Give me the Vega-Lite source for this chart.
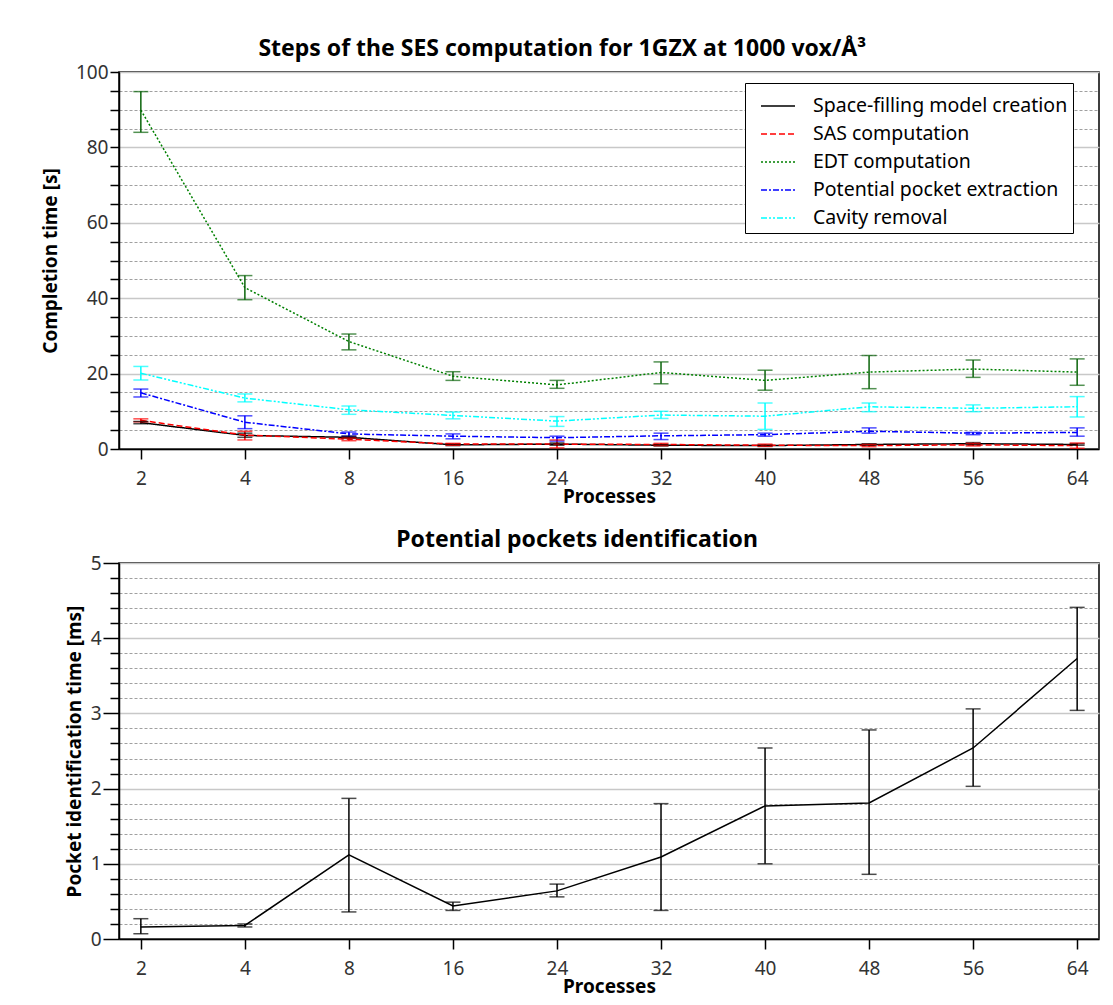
{
  "$schema": "https://vega.github.io/schema/vega-lite/v6.json",
  "padding": {"left": 40, "top": 37, "right": 12, "bottom": 4},
  "background": "white",
  "spacing": 21,
  "config": {
    "font": "Noto Sans",
    "view": {"stroke": "black", "strokeWidth": 1.5},
    "axis": {
      "labelFont": "Noto Sans", "labelFontSize": 19, "labelColor": "#333333",
      "titleFont": "Noto Sans", "titleFontSize": 19, "titleFontWeight": "bold", "titleColor": "black",
      "domainColor": "black", "domainWidth": 1.5, "tickColor": "black", "tickWidth": 1.5
    },
    "title": {"font": "Noto Sans", "fontSize": 23, "fontWeight": "bold", "color": "black", "anchor": "middle", "frame": "bounds", "offset": 2}
  },
  "datasets": {
    "steps": [
      {"step": "Space-filling model creation", "processes": 2, "time": 7.0, "lo": 6.7, "hi": 7.3},
      {"step": "Space-filling model creation", "processes": 4, "time": 3.6, "lo": 3.1, "hi": 4.2},
      {"step": "Space-filling model creation", "processes": 8, "time": 3.1, "lo": 2.8, "hi": 3.4},
      {"step": "Space-filling model creation", "processes": 16, "time": 1.1, "lo": 0.9, "hi": 1.3},
      {"step": "Space-filling model creation", "processes": 24, "time": 1.3, "lo": 1.0, "hi": 1.6},
      {"step": "Space-filling model creation", "processes": 32, "time": 1.0, "lo": 0.8, "hi": 1.2},
      {"step": "Space-filling model creation", "processes": 40, "time": 0.9, "lo": 0.7, "hi": 1.1},
      {"step": "Space-filling model creation", "processes": 48, "time": 1.2, "lo": 1.0, "hi": 1.4},
      {"step": "Space-filling model creation", "processes": 56, "time": 1.4, "lo": 1.1, "hi": 1.7},
      {"step": "Space-filling model creation", "processes": 64, "time": 1.2, "lo": 1.0, "hi": 1.4},
      {"step": "SAS computation", "processes": 2, "time": 7.6, "lo": 7.2, "hi": 8.0},
      {"step": "SAS computation", "processes": 4, "time": 3.7, "lo": 2.4, "hi": 4.7},
      {"step": "SAS computation", "processes": 8, "time": 2.6, "lo": 2.2, "hi": 2.9},
      {"step": "SAS computation", "processes": 16, "time": 1.3, "lo": 1.0, "hi": 1.5},
      {"step": "SAS computation", "processes": 24, "time": 1.3, "lo": 0.3, "hi": 2.4},
      {"step": "SAS computation", "processes": 32, "time": 1.2, "lo": 0.9, "hi": 1.5},
      {"step": "SAS computation", "processes": 40, "time": 1.0, "lo": 0.7, "hi": 1.3},
      {"step": "SAS computation", "processes": 48, "time": 0.9, "lo": 0.6, "hi": 1.2},
      {"step": "SAS computation", "processes": 56, "time": 1.1, "lo": 0.8, "hi": 1.5},
      {"step": "SAS computation", "processes": 64, "time": 0.9, "lo": 0.2, "hi": 1.6},
      {"step": "EDT computation", "processes": 2, "time": 89.9, "lo": 84.0, "hi": 94.8},
      {"step": "EDT computation", "processes": 4, "time": 42.8, "lo": 39.6, "hi": 46.0},
      {"step": "EDT computation", "processes": 8, "time": 28.5, "lo": 26.3, "hi": 30.5},
      {"step": "EDT computation", "processes": 16, "time": 19.3, "lo": 18.2, "hi": 20.5},
      {"step": "EDT computation", "processes": 24, "time": 17.0, "lo": 16.1, "hi": 18.2},
      {"step": "EDT computation", "processes": 32, "time": 20.3, "lo": 17.3, "hi": 23.1},
      {"step": "EDT computation", "processes": 40, "time": 18.2, "lo": 15.6, "hi": 20.9},
      {"step": "EDT computation", "processes": 48, "time": 20.4, "lo": 16.0, "hi": 24.8},
      {"step": "EDT computation", "processes": 56, "time": 21.2, "lo": 19.0, "hi": 23.6},
      {"step": "EDT computation", "processes": 64, "time": 20.4, "lo": 16.9, "hi": 23.9},
      {"step": "Potential pocket extraction", "processes": 2, "time": 14.9, "lo": 13.8, "hi": 15.9},
      {"step": "Potential pocket extraction", "processes": 4, "time": 7.1, "lo": 5.4, "hi": 8.8},
      {"step": "Potential pocket extraction", "processes": 8, "time": 4.0, "lo": 3.4, "hi": 4.5},
      {"step": "Potential pocket extraction", "processes": 16, "time": 3.4, "lo": 2.7, "hi": 4.0},
      {"step": "Potential pocket extraction", "processes": 24, "time": 3.0, "lo": 2.1, "hi": 3.4},
      {"step": "Potential pocket extraction", "processes": 32, "time": 3.5, "lo": 2.5, "hi": 4.2},
      {"step": "Potential pocket extraction", "processes": 40, "time": 3.8, "lo": 3.4, "hi": 4.2},
      {"step": "Potential pocket extraction", "processes": 48, "time": 4.7, "lo": 4.2, "hi": 5.6},
      {"step": "Potential pocket extraction", "processes": 56, "time": 4.2, "lo": 3.8, "hi": 4.4},
      {"step": "Potential pocket extraction", "processes": 64, "time": 4.4, "lo": 3.4, "hi": 5.6},
      {"step": "Cavity removal", "processes": 2, "time": 20.1, "lo": 18.3, "hi": 21.9},
      {"step": "Cavity removal", "processes": 4, "time": 13.5, "lo": 12.5, "hi": 14.6},
      {"step": "Cavity removal", "processes": 8, "time": 10.4, "lo": 9.2, "hi": 11.4},
      {"step": "Cavity removal", "processes": 16, "time": 8.9, "lo": 8.0, "hi": 9.8},
      {"step": "Cavity removal", "processes": 24, "time": 7.4, "lo": 6.0, "hi": 8.6},
      {"step": "Cavity removal", "processes": 32, "time": 9.0, "lo": 8.1, "hi": 10.0},
      {"step": "Cavity removal", "processes": 40, "time": 8.7, "lo": 5.2, "hi": 12.2},
      {"step": "Cavity removal", "processes": 48, "time": 11.2, "lo": 9.9, "hi": 12.2},
      {"step": "Cavity removal", "processes": 56, "time": 10.8, "lo": 9.9, "hi": 11.7},
      {"step": "Cavity removal", "processes": 64, "time": 11.2, "lo": 8.5, "hi": 13.9}
    ],
    "pockets": [
      {"processes": 2, "time": 0.16, "lo": 0.07, "hi": 0.27},
      {"processes": 4, "time": 0.18, "lo": 0.16, "hi": 0.20},
      {"processes": 8, "time": 1.12, "lo": 0.36, "hi": 1.87},
      {"processes": 16, "time": 0.44, "lo": 0.38, "hi": 0.49},
      {"processes": 24, "time": 0.64, "lo": 0.56, "hi": 0.73},
      {"processes": 32, "time": 1.09, "lo": 0.38, "hi": 1.80},
      {"processes": 40, "time": 1.77, "lo": 1.00, "hi": 2.54},
      {"processes": 48, "time": 1.81, "lo": 0.86, "hi": 2.78},
      {"processes": 56, "time": 2.54, "lo": 2.03, "hi": 3.06},
      {"processes": 64, "time": 3.73, "lo": 3.04, "hi": 4.41}
    ]
  },
  "vconcat": [
    {
      "width": 980,
      "height": 377,
      "title": {"text": "Steps of the SES computation for 1GZX at 1000 vox/Å³", "dx": -8},
      "data": {"name": "steps"},
      "encoding": {
        "x": {
          "field": "processes", "type": "ordinal",
          "scale": {"type": "point", "padding": 0.21},
          "axis": {"title": "Processes", "labelAngle": 0, "tickSize": 10, "labelPadding": 10, "titlePadding": -1, "grid": false}
        }
      },
      "layer": [
        {
          "mark": {"type": "line", "strokeWidth": 1.5},
          "encoding": {
            "y": {
              "field": "time", "type": "quantitative",
              "scale": {"domain": [0, 100], "nice": false},
              "axis": {
                "title": "Completion time [s]",
                "values": [0,5,10,15,20,25,30,35,40,45,50,55,60,65,70,75,80,85,90,95,100],
                "tickCount": 1000,
                "labelExpr": "datum.value % 20 === 0 ? format(datum.value, 'd') : ''",
                "tickSize": 9, "labelPadding": 2, "titlePadding": 15,
                "grid": true,
                "gridColor": {"condition": {"test": "datum.value % 20 === 0", "value": "#c8c8c8"}, "value": "#a0a0a0"},
                "gridDash": {"condition": {"test": "datum.value % 20 === 0", "value": []}, "value": [3, 2]},
                "gridWidth": {"condition": {"test": "datum.value % 20 === 0", "value": 1.5}, "value": 1}
              }
            },
            "color": {
              "field": "step", "type": "nominal",
              "scale": {
                "domain": ["Space-filling model creation", "SAS computation", "EDT computation", "Potential pocket extraction", "Cavity removal"],
                "range": ["#000000", "#ff0000", "#008000", "#0000ff", "#00ffff"]
              },
              "legend": {
                "title": null, "orient": "none", "legendX": 626, "legendY": 11,
                "strokeColor": "black", "fillColor": "white", "padding": 5, "symbolOffset": 10,
                "labelFontSize": 19.5, "labelColor": "black", "labelFont": "Noto Sans", "labelLimit": 500,
                "symbolSize": 1156, "symbolStrokeWidth": 1.5, "labelOffset": 17, "rowPadding": -6.4
              }
            },
            "strokeDash": {
              "field": "step", "type": "nominal",
              "scale": {
                "domain": ["Space-filling model creation", "SAS computation", "EDT computation", "Potential pocket extraction", "Cavity removal"],
                "range": [[1, 0], [6, 3], [2, 2], [6, 2, 2, 2], [6, 2, 2, 2, 2, 2]]
              },
              "legend": {
                "title": null, "orient": "none", "legendX": 626, "legendY": 11,
                "strokeColor": "black", "fillColor": "white", "padding": 5, "symbolOffset": 10,
                "labelFontSize": 19.5, "labelColor": "black", "labelFont": "Noto Sans", "labelLimit": 500,
                "symbolSize": 1156, "symbolStrokeWidth": 1.5, "labelOffset": 17, "rowPadding": -6.4
              }
            }
          }
        },
        {
          "transform": [{"filter": "datum.step !== 'EDT computation'"}],
          "mark": {"type": "rule", "strokeWidth": 1.5},
          "encoding": {
            "y": {"field": "lo", "type": "quantitative"},
            "y2": {"field": "hi"},
            "color": {"field": "step", "type": "nominal", "legend": null}
          }
        },
        {
          "transform": [{"filter": "datum.step !== 'EDT computation'"}],
          "mark": {"type": "tick", "size": 15, "thickness": 1.5},
          "encoding": {
            "y": {"field": "lo", "type": "quantitative"},
            "color": {"field": "step", "type": "nominal", "legend": null}
          }
        },
        {
          "transform": [{"filter": "datum.step !== 'EDT computation'"}],
          "mark": {"type": "tick", "size": 15, "thickness": 1.5},
          "encoding": {
            "y": {"field": "hi", "type": "quantitative"},
            "color": {"field": "step", "type": "nominal", "legend": null}
          }
        },
        {
          "transform": [{"filter": "datum.step === 'EDT computation'"}],
          "mark": {"type": "rule", "strokeWidth": 1.5, "color": "#0a640a"},
          "encoding": {
            "y": {"field": "lo", "type": "quantitative"},
            "y2": {"field": "hi"}
          }
        },
        {
          "transform": [{"filter": "datum.step === 'EDT computation'"}],
          "mark": {"type": "tick", "size": 15, "thickness": 1.5, "color": "#0a640a"},
          "encoding": {"y": {"field": "lo", "type": "quantitative"}}
        },
        {
          "transform": [{"filter": "datum.step === 'EDT computation'"}],
          "mark": {"type": "tick", "size": 15, "thickness": 1.5, "color": "#0a640a"},
          "encoding": {"y": {"field": "hi", "type": "quantitative"}}
        }
      ]
    },
    {
      "width": 980,
      "height": 376,
      "title": {"text": "Potential pockets identification", "dx": -5},
      "data": {"name": "pockets"},
      "encoding": {
        "x": {
          "field": "processes", "type": "ordinal",
          "scale": {"type": "point", "padding": 0.21},
          "axis": {"title": "Processes", "labelAngle": 0, "tickSize": 10, "labelPadding": 10, "titlePadding": -1, "grid": false}
        }
      },
      "layer": [
        {
          "mark": {"type": "line", "strokeWidth": 1.5, "color": "black"},
          "encoding": {
            "y": {
              "field": "time", "type": "quantitative",
              "scale": {"domain": [0, 5], "nice": false},
              "axis": {
                "title": "Pocket identification time [ms]",
                "values": [0,0.2,0.4,0.6,0.8,1,1.2,1.4,1.6,1.8,2,2.2,2.4,2.6,2.8,3,3.2,3.4,3.6,3.8,4,4.2,4.4,4.6,4.8,5],
                "tickCount": 1000,
                "labelExpr": "abs(datum.value - round(datum.value)) < 0.001 ? format(datum.value, 'd') : ''",
                "tickSize": {"condition": {"test": "abs(datum.value - round(datum.value)) < 0.001", "value": 16}, "value": 9},
                "labelPadding": 2, "titlePadding": 6,
                "grid": true,
                "gridColor": {"condition": {"test": "abs(datum.value - round(datum.value)) < 0.001", "value": "#c8c8c8"}, "value": "#a0a0a0"},
                "gridDash": {"condition": {"test": "abs(datum.value - round(datum.value)) < 0.001", "value": []}, "value": [3, 2]},
                "gridWidth": {"condition": {"test": "abs(datum.value - round(datum.value)) < 0.001", "value": 1.5}, "value": 1}
              }
            }
          }
        },
        {
          "mark": {"type": "rule", "strokeWidth": 1.5, "color": "black"},
          "encoding": {
            "y": {"field": "lo", "type": "quantitative"},
            "y2": {"field": "hi"}
          }
        },
        {
          "mark": {"type": "tick", "size": 15, "thickness": 1.5, "color": "black"},
          "encoding": {"y": {"field": "lo", "type": "quantitative"}}
        },
        {
          "mark": {"type": "tick", "size": 15, "thickness": 1.5, "color": "black"},
          "encoding": {"y": {"field": "hi", "type": "quantitative"}}
        }
      ]
    }
  ]
}
